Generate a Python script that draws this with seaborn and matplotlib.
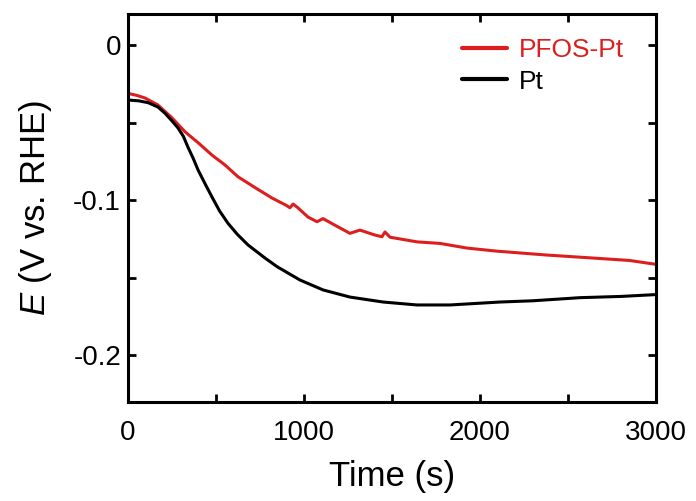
import numpy as np
import pandas as pd
import matplotlib
matplotlib.use("Agg")
import matplotlib.pyplot as plt
from matplotlib.ticker import MultipleLocator
import seaborn as sns

# values (time in s, potential in V vs. RHE)
t_pfos = [0, 50, 97, 170, 250, 324, 398, 477, 551, 625, 722, 818, 900, 920,
          938, 960, 1023, 1074, 1108, 1180, 1261, 1318, 1400, 1443, 1460,
          1489, 1642, 1773, 1926, 2097, 2380, 2665, 2850, 3000]
e_pfos = [-0.0312, -0.0325, -0.0342, -0.0387, -0.047, -0.056, -0.063, -0.071,
          -0.0774, -0.085, -0.092, -0.0987, -0.1035, -0.105, -0.1026, -0.1045,
          -0.111, -0.114, -0.112, -0.1165, -0.1215, -0.1194, -0.1225, -0.1237,
          -0.1206, -0.124, -0.127, -0.128, -0.131, -0.133, -0.1355, -0.1376,
          -0.139, -0.1415]

t_pt = [0, 60, 114, 170, 210, 250, 284, 315, 341, 370, 398, 440, 477, 520,
        568, 620, 682, 778, 847, 977, 1108, 1261, 1449, 1642, 1830, 2114,
        2300, 2568, 2800, 3000]
e_pt = [-0.0355, -0.036, -0.0372, -0.040, -0.044, -0.049, -0.0535, -0.059,
        -0.066, -0.073, -0.0806, -0.090, -0.098, -0.107, -0.115, -0.122,
        -0.129, -0.1374, -0.143, -0.1516, -0.158, -0.1626, -0.1658, -0.1677,
        -0.1677, -0.1658, -0.165, -0.163, -0.1622, -0.161]

labels = ["PFOS-Pt", "Pt"]
colors = {"PFOS-Pt": "#dc1e1e", "Pt": "black"}

df = pd.concat([
    pd.DataFrame({"t": t_pfos, "E": e_pfos, "sample": labels[0]}),
    pd.DataFrame({"t": t_pt, "E": e_pt, "sample": labels[1]}),
])

sns.set_style("ticks")
plt.rcParams['font.family'] = ['Liberation Sans', 'DejaVu Sans']
plt.rcParams['mathtext.fontset'] = 'custom'
plt.rcParams['mathtext.it'] = 'Liberation Sans:italic'
plt.rcParams['mathtext.rm'] = 'Liberation Sans'
plt.rcParams['text.color'] = 'black'
plt.rcParams['axes.labelcolor'] = 'black'
plt.rcParams['xtick.color'] = 'black'
plt.rcParams['ytick.color'] = 'black'

fig = plt.figure(figsize=(6.96, 5.01), dpi=100)
ax = fig.add_axes([128/696, 99/501, 528/696, 388/501])

sns.lineplot(data=df, x="t", y="E", hue="sample", palette=colors,
             estimator=None, sort=True, linewidth=2.2, ax=ax)

ax.set_xlim(0, 3000)
ax.set_ylim(-0.2303, 0.020)
ax.xaxis.set_major_locator(MultipleLocator(1000))
ax.xaxis.set_minor_locator(MultipleLocator(500))
ax.yaxis.set_major_locator(MultipleLocator(0.1))
ax.yaxis.set_minor_locator(MultipleLocator(0.05))
ax.set_xticklabels([f"{int(v)}" for v in ax.get_xticks()])
ax.set_yticks([0, -0.1, -0.2])
ax.set_yticklabels(["0", "-0.1", "-0.2"])

for s in ax.spines.values():
    s.set_linewidth(2.2)
    s.set_color("black")
    s.set_visible(True)
ax.tick_params(which="both", direction="in", top=True, right=True,
               length=6, width=2, labelsize=20, colors="black")
ax.tick_params(axis="x", pad=13)
ax.tick_params(axis="y", pad=5)

ax.set_xlabel("Time (s)", fontsize=25, labelpad=10)
ax.set_ylabel(r"$E$ (V vs. RHE)", fontsize=25, labelpad=14)

leg = ax.legend(frameon=False, fontsize=19, loc="upper right",
                bbox_to_anchor=(0.985, 1.0), handlelength=1.7,
                handletextpad=0.45, labelspacing=0.3)
for line in leg.get_lines():
    line.set_linewidth(3)
for txt in leg.get_texts():
    txt.set_color(colors[txt.get_text()])

fig.savefig("out.png", dpi=100)
